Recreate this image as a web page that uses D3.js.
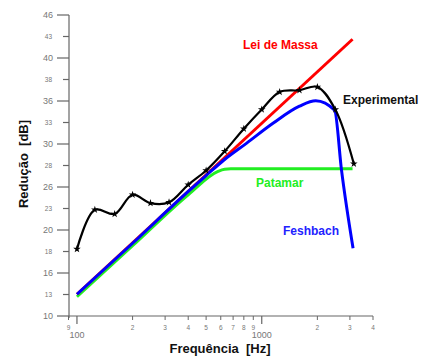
<!DOCTYPE html>
<html><head><meta charset="utf-8">
<script src="https://cdn.jsdelivr.net/npm/d3@7"></script>
<style>html,body{margin:0;padding:0;background:#fff;}svg{display:block;font-family:Arial,"Liberation Sans",sans-serif;}text{white-space:pre;}</style>
</head><body><svg id="c" width="431" height="358"></svg>
<script>
// ---- data ----
const yTickValues = [10, 12.571, 15.143, 17.714, 20.286, 22.857, 25.429, 28, 30.571, 33.143, 35.714, 38.286, 40.857, 43.429, 46];
const yTickLabels = ["10","13","16","18","20","23","26","28","30","33","36","38","40","43","46"];
const xMinorTicks = [90, 200, 300, 400, 500, 600, 700, 800, 900, 2000, 3000, 4000];
const xMinorLabels = ["9","2","3","4","5","6","7","8","9","2","3","4"];
const xMajorTicks = [100, 1000];
const xMajorLabels = ["100", "1000"];

const expFreq = [100,125,160,200,250,315,400,500,630,800,1000,1250,1600,2000,2500,3150];
const expVal  = [18.0,22.7,22.2,24.5,23.5,23.6,25.7,27.4,29.7,32.4,34.7,36.8,37.0,37.4,34.7,28.2];

const massFreq = [100, 3100];
const massVal  = [12.6, 43.1];

const platFreq = [100, 200, 400, 580, 630, 680, 1500, 3100];
const platVal  = [12.3, 18.4, 24.5, 27.3, 27.55, 27.6, 27.6, 27.6];

const feshFreq = [100, 200, 400, 500, 620, 826, 1150, 1600, 1960, 2480, 2700, 3120];
const feshVal  = [12.6, 18.7, 24.9, 26.8, 28.6, 30.65, 33.05, 35.1, 35.75, 34.6, 27.5, 18.1];

// ---- chart ----
const svg = d3.select("#c");
const x = d3.scaleLog().domain([90, 4000]).range([68.5, 373]);
const y = d3.scaleLinear().domain([10, 46]).range([316, 15]);
const axisCol = "#666";

// y axis
svg.append("line").attr("x1",69).attr("x2",69).attr("y1",y(46)).attr("y2",318).attr("stroke",axisCol).attr("stroke-width",1.2);
yTickValues.forEach((v,i)=>{
  const big = i % 2 === 0;
  svg.append("line").attr("x1", big?57:63).attr("x2",69).attr("y1",y(v)).attr("y2",y(v)).attr("stroke",axisCol).attr("stroke-width",1.2);
  svg.append("text").attr("x", big?53:52).attr("y", y(v)).attr("dy","0.35em").attr("text-anchor","end")
    .attr("font-size", big?9:6.5).attr("fill","#777").text(yTickLabels[i]);
});
// x axis
svg.append("line").attr("x1",69).attr("x2",x(4000)).attr("y1",316).attr("y2",316).attr("stroke",axisCol).attr("stroke-width",1.2);
xMinorTicks.forEach((v,i)=>{
  svg.append("line").attr("x1",x(v)).attr("x2",x(v)).attr("y1",316).attr("y2",320).attr("stroke",axisCol).attr("stroke-width",1);
  svg.append("text").attr("x",x(v)).attr("y",330).attr("text-anchor","middle").attr("font-size",6.5).attr("fill","#777").text(xMinorLabels[i]);
});
xMajorTicks.forEach((v,i)=>{
  svg.append("line").attr("x1",x(v)).attr("x2",x(v)).attr("y1",316).attr("y2",324).attr("stroke",axisCol).attr("stroke-width",1.2);
  svg.append("text").attr("x",x(v)).attr("y",338).attr("text-anchor","middle").attr("font-size",9).attr("fill","#777").text(xMajorLabels[i]);
});

// axis titles
svg.append("text").attr("x",220).attr("y",353).attr("text-anchor","middle").attr("font-size",13).attr("font-weight","bold").attr("fill","#111").text("Frequência  [Hz]");
svg.append("text").attr("transform","translate(28,164) rotate(-90)").attr("text-anchor","middle").attr("font-size",13).attr("font-weight","bold").attr("fill","#111").text("Redução  [dB]");

// lines
const line = d3.line().x(d=>x(d[0])).y(d=>y(d[1]));
const zip = (a,b)=>a.map((v,i)=>[v,b[i]]);

svg.append("path").datum(zip(platFreq,platVal)).attr("d", line.curve(d3.curveMonotoneX)).attr("fill","none").attr("stroke","#22ee22").attr("stroke-width",3);
svg.append("path").datum(zip(massFreq,massVal)).attr("d", line.curve(d3.curveLinear)).attr("fill","none").attr("stroke","#ff0000").attr("stroke-width",3);
svg.append("path").datum(zip(feshFreq,feshVal)).attr("d", line.curve(d3.curveMonotoneX)).attr("fill","none").attr("stroke","#0000ff").attr("stroke-width",3);
svg.append("path").datum(zip(expFreq,expVal)).attr("d", line.curve(d3.curveCatmullRom.alpha(0.5))).attr("fill","none").attr("stroke","#000").attr("stroke-width",2.2);

const star = d3.symbol().type(d3.symbolStar).size(18);
svg.selectAll("path.m").data(zip(expFreq,expVal)).enter().append("path").attr("class","m")
  .attr("d", star).attr("transform", d=>`translate(${x(d[0])},${y(d[1])})`).attr("fill","#000");

// labels
const lab = (t,xx,yy,c)=>svg.append("text").attr("x",xx).attr("y",yy).attr("font-size",12).attr("font-weight","bold").attr("fill",c).text(t);
lab("Lei de Massa",243,49,"#ff0000");
lab("Experimental",343,104,"#111");
lab("Patamar",256,187,"#22ee22");
lab("Feshbach",283,235,"#2222ff");
</script></body></html>
